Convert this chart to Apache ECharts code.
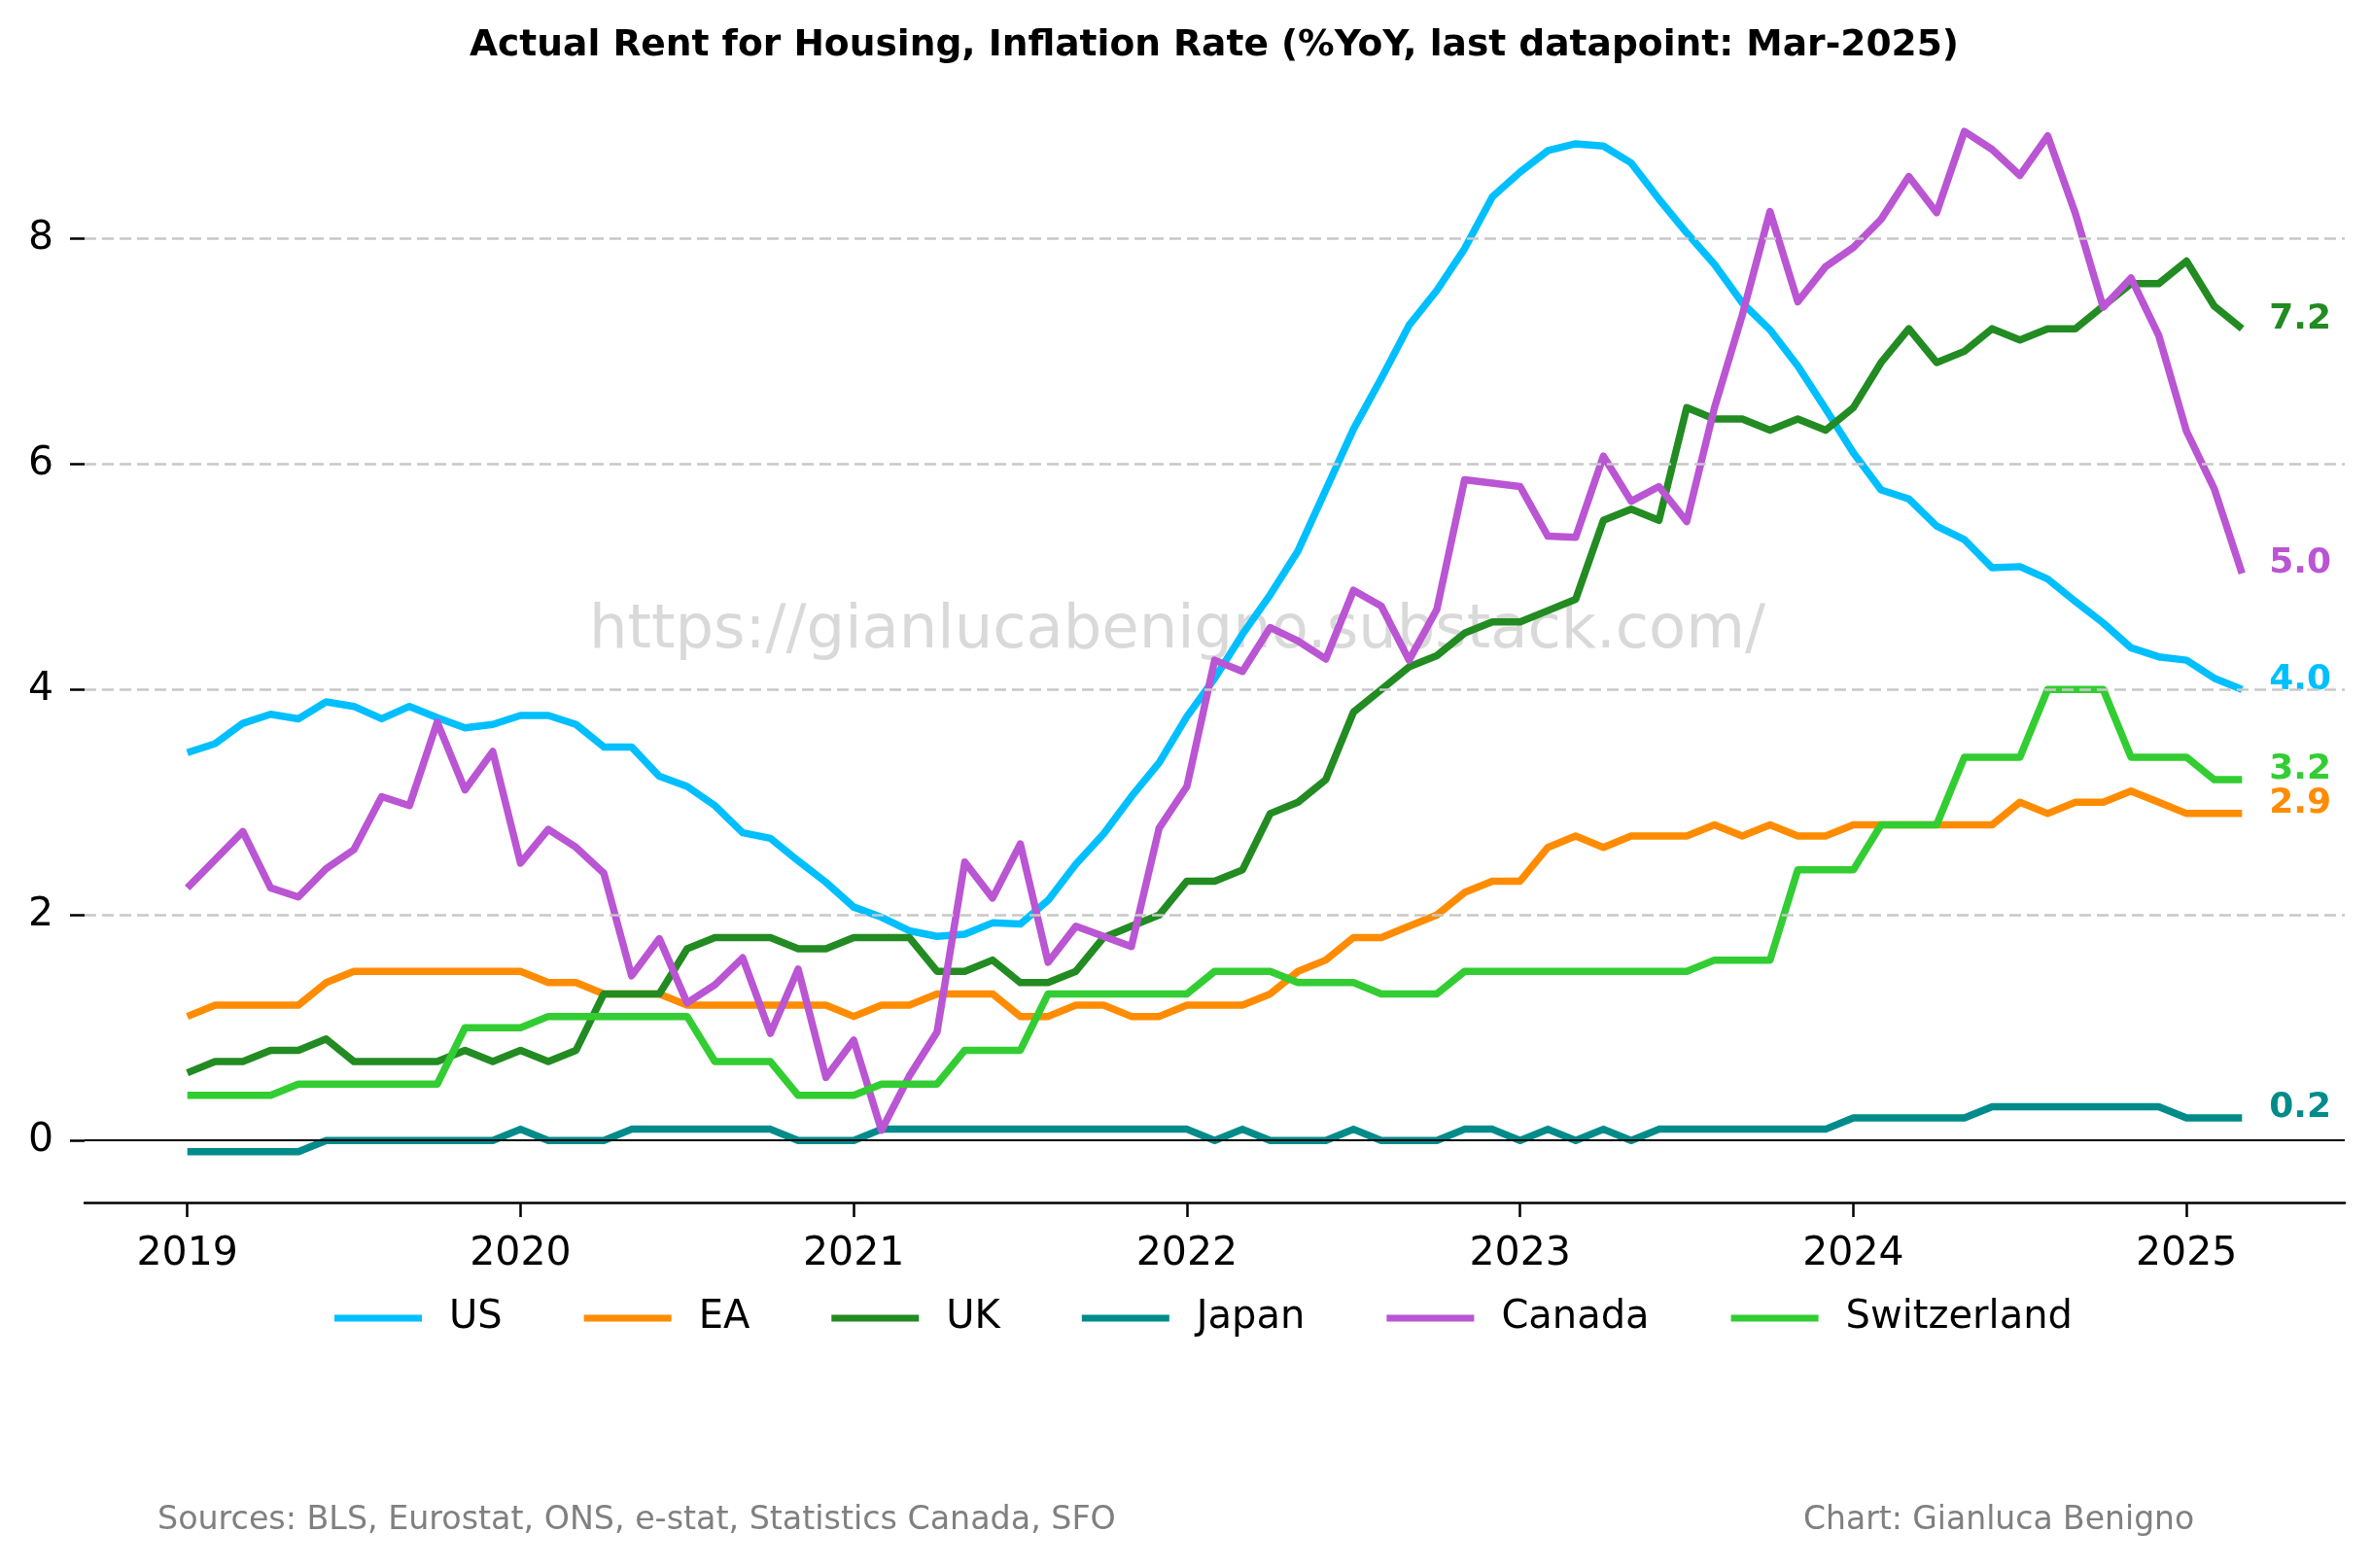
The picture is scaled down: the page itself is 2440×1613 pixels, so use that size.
<!DOCTYPE html>
<html>
<head>
<meta charset="utf-8">
<script src="https://cdn.jsdelivr.net/npm/echarts@6/dist/echarts.min.js"></script>
<style>
html,body{margin:0;padding:0;background:#fff;}
#chart{width:2440px;height:1613px;}
</style>
</head>
<body>
<div id="chart"></div>
<script>
// Monthly data, Jan-2019 .. Mar-2025 (index 0 = Jan-2019)
const startYear = 2019;
const yearTicks = [2019, 2020, 2021, 2022, 2023, 2024, 2025];
const yTicks = [0, 2, 4, 6, 8];
const seriesNames = ['US', 'EA', 'UK', 'Japan', 'Canada', 'Switzerland'];

const us = [3.44,3.52,3.70,3.78,3.74,3.89,3.85,3.74,3.85,3.75,3.66,3.69,
 3.77,3.77,3.69,3.49,3.49,3.23,3.14,2.97,2.73,2.68,2.48,2.29,
 2.07,1.98,1.86,1.81,1.83,1.93,1.92,2.13,2.45,2.72,3.05,3.35,
 3.76,4.10,4.49,4.84,5.23,5.77,6.31,6.76,7.23,7.54,7.91,8.37,
 8.59,8.78,8.84,8.82,8.67,8.35,8.05,7.77,7.43,7.19,6.87,6.49,
 6.10,5.77,5.69,5.45,5.33,5.08,5.09,4.98,4.78,4.59,4.37,4.29,
 4.26,4.10,4.00];
const ea = [1.1,1.2,1.2,1.2,1.2,1.4,1.5,1.5,1.5,1.5,1.5,1.5,
 1.5,1.4,1.4,1.3,1.3,1.3,1.2,1.2,1.2,1.2,1.2,1.2,
 1.1,1.2,1.2,1.3,1.3,1.3,1.1,1.1,1.2,1.2,1.1,1.1,
 1.2,1.2,1.2,1.3,1.5,1.6,1.8,1.8,1.9,2.0,2.2,2.3,
 2.3,2.6,2.7,2.6,2.7,2.7,2.7,2.8,2.7,2.8,2.7,2.7,
 2.8,2.8,2.8,2.8,2.8,2.8,3.0,2.9,3.0,3.0,3.1,3.0,
 2.9,2.9,2.9];
const uk = [0.6,0.7,0.7,0.8,0.8,0.9,0.7,0.7,0.7,0.7,0.8,0.7,
 0.8,0.7,0.8,1.3,1.3,1.3,1.7,1.8,1.8,1.8,1.7,1.7,
 1.8,1.8,1.8,1.5,1.5,1.6,1.4,1.4,1.5,1.8,1.9,2.0,
 2.3,2.3,2.4,2.9,3.0,3.2,3.8,4.0,4.2,4.3,4.5,4.6,
 4.6,4.7,4.8,5.5,5.6,5.5,6.5,6.4,6.4,6.3,6.4,6.3,
 6.5,6.9,7.2,6.9,7.0,7.2,7.1,7.2,7.2,7.4,7.6,7.6,
 7.8,7.4,7.2];
const japan = [-0.1,-0.1,-0.1,-0.1,-0.1,0,0,0,0,0,0,0,
 0.1,0,0,0,0.1,0.1,0.1,0.1,0.1,0.1,0,0,
 0,0.1,0.1,0.1,0.1,0.1,0.1,0.1,0.1,0.1,0.1,0.1,
 0.1,0,0.1,0,0,0,0.1,0,0,0,0.1,0.1,
 0,0.1,0,0.1,0,0.1,0.1,0.1,0.1,0.1,0.1,0.1,
 0.2,0.2,0.2,0.2,0.2,0.3,0.3,0.3,0.3,0.3,0.3,0.3,
 0.2,0.2,0.2];
const canada = [2.24,2.49,2.74,2.24,2.16,2.41,2.58,3.05,2.97,3.71,3.11,3.45,
 2.46,2.76,2.60,2.37,1.46,1.79,1.22,1.38,1.62,0.95,1.52,0.56,
 0.89,0.09,0.57,0.96,2.47,2.15,2.63,1.58,1.90,1.81,1.72,2.77,
 3.14,4.26,4.16,4.55,4.43,4.27,4.88,4.74,4.26,4.71,5.86,5.83,
 5.80,5.36,5.35,6.07,5.67,5.80,5.49,6.50,7.32,8.24,7.44,7.75,
 7.92,8.17,8.55,8.23,8.95,8.79,8.56,8.91,8.22,7.39,7.65,7.14,
 6.29,5.78,5.03];
const switzerland = [0.4,0.4,0.4,0.4,0.5,0.5,0.5,0.5,0.5,0.5,1.0,1.0,
 1.0,1.1,1.1,1.1,1.1,1.1,1.1,0.7,0.7,0.7,0.4,0.4,
 0.4,0.5,0.5,0.5,0.8,0.8,0.8,1.3,1.3,1.3,1.3,1.3,
 1.3,1.5,1.5,1.5,1.4,1.4,1.4,1.3,1.3,1.3,1.5,1.5,
 1.5,1.5,1.5,1.5,1.5,1.5,1.5,1.6,1.6,1.6,2.4,2.4,
 2.4,2.8,2.8,2.8,3.4,3.4,3.4,4.0,4.0,4.0,3.4,3.4,
 3.4,3.2,3.2];

const colors = ['#00BFFF', '#FF8C00', '#228B22', '#008B8B', '#BA55D3', '#32CD32'];
const values = [us, ea, uk, japan, canada, switzerland];
const FONT = 'DejaVu Sans';

const chart = echarts.init(document.getElementById('chart'), null, {renderer: 'canvas'});

const lineSeries = seriesNames.map((name, k) => ({
  name: name,
  type: 'line',
  data: values[k].map((v, i) => [i, v]),
  showSymbol: false,
  symbol: 'none',
  z: 3,
  lineStyle: {color: colors[k], width: 7.5, join: 'round'},
  itemStyle: {color: colors[k]},
  endLabel: {
    show: true,
    formatter: p => p.value[1].toFixed(1),
    color: colors[k],
    fontFamily: FONT,
    fontWeight: 'bold',
    fontSize: 36,
    distance: 28,
    offset: [0, -10]
  },
  animation: false
}));

const gridSeries = {
  name: '_grid',
  type: 'line',
  data: [],
  z: 1,
  silent: true,
  markLine: {
    silent: true,
    symbol: 'none',
    label: {show: false},
    animation: false,
    lineStyle: {color: '#c8c8c8', width: 2.5, type: [12, 6]},
    data: yTicks.filter(t => t !== 0).map(t => ({yAxis: t}))
  }
};
const zeroSeries = {
  name: '_zero',
  type: 'line',
  data: [],
  z: 5,
  silent: true,
  markLine: {
    silent: true,
    symbol: 'none',
    label: {show: false},
    animation: false,
    lineStyle: {color: '#000', width: 2, type: 'solid'},
    data: [{yAxis: 0}]
  }
};

const option = {
  backgroundColor: '#ffffff',
  animation: false,
  color: colors,
  textStyle: {fontFamily: FONT},
  grid: {left: 87, right: 28, top: 83, bottom: 376, containLabel: false, outerBoundsMode: 'none'},
  xAxis: {
    type: 'value',
    min: -3.7,
    max: 77.7,
    axisLine: {show: true, onZero: false, lineStyle: {color: '#000', width: 2.5}},
    axisTick: {show: true, length: 15, lineStyle: {color: '#000', width: 2.5},
      customValues: yearTicks.map(y => (y - startYear) * 12)},
    axisLabel: {show: true, fontSize: 41, color: '#000', fontFamily: FONT, margin: 33,
      customValues: yearTicks.map(y => (y - startYear) * 12),
      formatter: v => String(startYear + Math.round(v / 12))},
    splitLine: {show: false}
  },
  yAxis: {
    type: 'value',
    min: -0.55,
    max: 9.4,
    axisLine: {show: false, onZero: false},
    axisTick: {show: true, length: 15, lineStyle: {color: '#000', width: 2.5}, customValues: yTicks},
    axisLabel: {show: true, fontSize: 41, color: '#000', fontFamily: FONT, margin: 32, customValues: yTicks,
      formatter: v => String(v)},
    splitLine: {show: false}
  },
  legend: {
    data: seriesNames,
    left: 339,
    top: 1331,
    icon: 'rect',
    itemWidth: 90,
    itemHeight: 7,
    itemGap: 84,
    textStyle: {fontSize: 40, color: '#000', fontFamily: FONT, padding: [0, 0, 0, 23]}
  },
  graphic: [
    {type: 'text', x: 1249, y: 28, z: 10,
      style: {text: 'Actual Rent for Housing, Inflation Rate (%YoY, last datapoint: Mar-2025)',
        fontFamily: FONT, fontWeight: 'bold', fontSize: 37.6, fill: '#000', textAlign: 'center'}},
    {type: 'text', x: 1211, y: 650, z: 0,
      style: {text: 'https://gianlucabenigno.substack.com/', fontFamily: FONT, fontSize: 62.4,
        fill: 'rgba(128,128,128,0.3)', textAlign: 'center', textVerticalAlign: 'middle'}},
    {type: 'text', x: 162, y: 1564, z: 10,
      style: {text: 'Sources: BLS, Eurostat, ONS, e-stat, Statistics Canada, SFO', fontFamily: FONT, fontSize: 33.3,
        fill: '#808080', textAlign: 'left', textVerticalAlign: 'middle'}},
    {type: 'text', x: 1855, y: 1564, z: 10,
      style: {text: 'Chart: Gianluca Benigno', fontFamily: FONT, fontSize: 33,
        fill: '#808080', textAlign: 'left', textVerticalAlign: 'middle'}}
  ],
  series: [gridSeries].concat(lineSeries).concat([zeroSeries])
};
chart.setOption(option);
</script>
</body>
</html>
